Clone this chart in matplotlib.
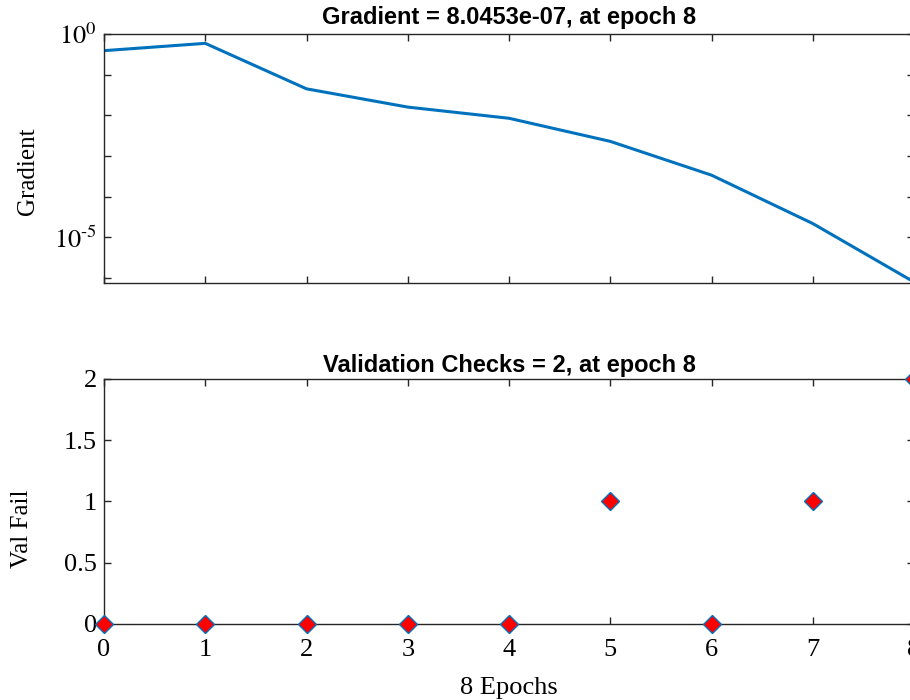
import numpy as np
import matplotlib
matplotlib.use('Agg')
import matplotlib.pyplot as plt
from matplotlib.ticker import FixedLocator, FuncFormatter

plt.rcParams['font.family'] = 'Liberation Serif'
plt.rcParams['mathtext.fontset'] = 'stix'

# training record
epochs = [0, 1, 2, 3, 4, 5, 6, 7, 8]
gradient = [0.39, 0.59, 0.045, 0.016, 0.0085, 0.0023, 3.4e-4, 2.2e-5, 8.0453e-7]
val_fail = [0, 0, 0, 0, 0, 1, 0, 1, 2]

line_col = '#0072BD'
spine_col = '#262626'

fig = plt.figure(figsize=(9.1, 7), dpi=100)
ax1 = fig.add_axes([0.1143, 0.5957, 0.8901, 0.3557])
ax2 = fig.add_axes([0.1143, 0.1086, 0.8901, 0.35])

# gradient
ax1.semilogy(epochs, gradient, color=line_col, lw=2.2)
ax1.set_xlim(0, 8)
ax1.set_ylim(7.6e-7, 1)
ax1.yaxis.set_major_locator(FixedLocator([10.0**k for k in range(-6, 1)]))
ax1.yaxis.set_minor_locator(FixedLocator([]))
def dec_label(v, pos):
    k = int(round(np.log10(v)))
    if k in (0, -5):
        return r'$10^{\text{%d}}$' % k
    return ''
ax1.yaxis.set_major_formatter(FuncFormatter(dec_label))
ax1.set_xticks(epochs)
ax1.set_xticklabels([])
ax1.set_title('Gradient = 8.0453e-07, at epoch 8', family='Liberation Sans',
              fontweight='bold', fontsize=17, pad=7)
ax1.set_ylabel('Gradient', fontsize=18)
ax1.yaxis.set_label_coords(-0.08, 0.45)

# validation checks
ax2.plot(epochs, val_fail, ls='none', marker='D', ms=9, mfc='red',
         mec=line_col, mew=1.0, clip_on=False, zorder=5)
ax2.set_xlim(0, 8)
ax2.set_ylim(0, 2)
ax2.set_xticks(epochs)
ax2.set_yticks([0, 0.5, 1, 1.5, 2])
ax2.set_yticklabels(['0', '0.5', '1', '1.5', '2'])
ax2.set_title('Validation Checks = 2, at epoch 8', family='Liberation Sans',
              fontweight='bold', fontsize=17, pad=5)
ax2.set_ylabel('Val Fail', fontsize=18)
ax2.yaxis.set_label_coords(-0.088, 0.39)
ax2.set_xlabel('8 Epochs', fontsize=19, labelpad=11)

for ax in (ax1, ax2):
    for s in ax.spines.values():
        s.set_color(spine_col)
        s.set_linewidth(1.0)
    ax.tick_params(direction='in', length=5, width=1, color=spine_col,
                   top=True, right=True, labelsize=19, pad=5)
ax2.tick_params(axis='x', pad=11)

fig.savefig('out.png', dpi=100)
